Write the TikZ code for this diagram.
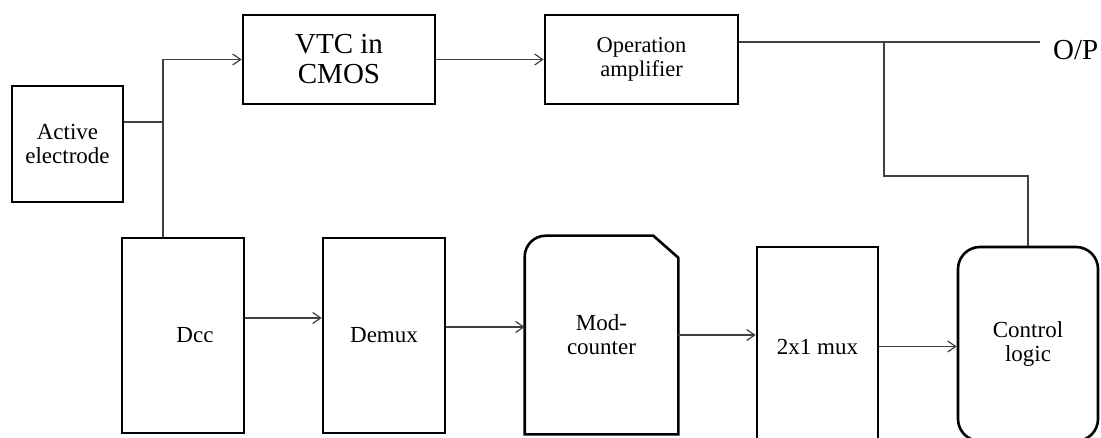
\documentclass[tikz,border=0pt]{standalone}
\usepackage{fontspec}
\setmainfont{Liberation Serif}
\usetikzlibrary{arrows.meta}

\begin{document}
\begin{tikzpicture}[x=1pt, y=-1pt,
        blk/.style={rectangle, draw, line width=2.6pt, inner sep=0pt, align=center, font=\fontsize{23}{24}\selectfont},
        wire/.style={draw=black!75, line width=1.2pt},
        sig/.style={wire, -{Straight Barb[length=8pt, width=11pt, line width=1.2pt]}}]
        \useasboundingbox (0, 0) rectangle (1101, 438);

        % Nodes
        % top row: electrode, VTC, amplifier
        \node[blk, minimum width=111, minimum height=116] at (67.5, 144)  (ae)     {Active\\electrode};
        \node[blk, minimum width=192, minimum height=89, font=\fontsize{29}{30}\selectfont] at (339, 59.5)  (vtc)    {VTC in\\CMOS};
        \node[blk, minimum width=193, minimum height=89, font=\fontsize{22.5}{24}\selectfont] at (641.5, 59.5)  (opamp)  {Operation\\amplifier};
        \node[anchor=west, inner sep=0pt, font=\fontsize{29}{30}\selectfont] at (1053, 50)  (outp)   {O/P};

        % bottom row
        \node[blk, minimum width=122, minimum height=195] at (183, 335.5)  (dcc)    {\hspace*{24pt}Dcc};
        \node[blk, minimum width=122, minimum height=195] at (384, 335.5)  (demux)  {Demux};
        \node[blk, draw=none, minimum width=151, minimum height=196] at (601.5, 335)  (mod)    {Mod-\\counter};
        \node[blk, minimum width=121, minimum height=200] at (817.5, 347)  (mux)    {2x1 mux};
        \node[blk, rounded corners=22pt, minimum width=140, minimum height=194] at (1028, 344)  (ctrl)   {Control\\logic};

        % outline of the counter: round corner left, cut corner right
        \draw[line width=2.6pt, line join=miter] (mod.south west) -- ([yshift=-21pt]mod.north west)
            arc[start angle=180, end angle=90, radius=21pt] -- ([xshift=-25pt]mod.north east)
            -- ([yshift=-22pt]mod.north east) -- (mod.south east) -- cycle;

        % junctions
        \coordinate (j1) at (163, 122);
        \coordinate (op) at (1040, 42);
        \coordinate (j2) at (884, 42);
        \coordinate (j3) at (1028, 176);

        % Connections
        \draw[wire]  (ae.east |- j1) -- (j1);
        \draw[sig]   (j1) |- (vtc.west);
        \draw[wire]  (j1) -- (j1 |- dcc.north);
        \draw[sig]   (vtc) -- (opamp);
        \draw[wire]  (opamp.east |- op) -- (op);
        \draw[wire]  (j2) |- (j3) -- (ctrl);

        \draw[sig]  ([yshift=17.5pt]dcc.east) -- ([yshift=17.5pt]demux.west);
        \draw[sig]  ([yshift=8.5pt]demux.east) -- ([yshift=8.5pt]demux.east -| mod.west);
        \draw[sig]  (mod.east) -- (mod.east -| mux.west);
        \draw[sig]  ([yshift=0.5pt]mux.east) -- ([yshift=0.5pt]mux.east -| ctrl.west);

    \end{tikzpicture}
\end{document}
